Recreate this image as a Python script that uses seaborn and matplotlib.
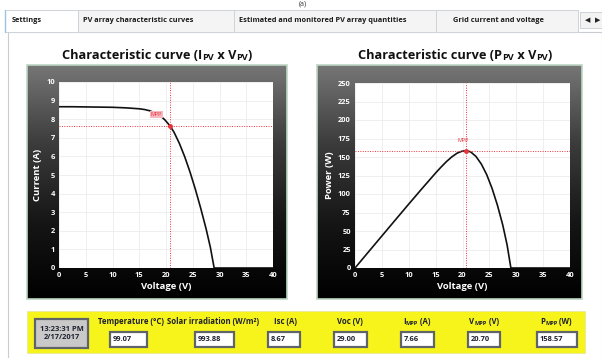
import numpy as np
import pandas as pd
import matplotlib
matplotlib.use("Agg")
import matplotlib.pyplot as plt
from matplotlib.patches import Rectangle
from matplotlib.colors import LinearSegmentedColormap
import seaborn as sns

# ---------------- data ----------------
voltage = [0, 2.5, 5, 7.5, 10, 12.5, 15, 16, 17, 18, 19, 19.8, 20.7, 21.5, 22.5, 23.5, 24.5, 25.5, 26.5, 27.5, 28.3, 29.0, 30, 35, 40]
current = [8.67, 8.67, 8.66, 8.65, 8.64, 8.61, 8.56, 8.52, 8.45, 8.34, 8.17, 7.96, 7.66, 7.30, 6.70, 5.98, 5.15, 4.22, 3.20, 2.10, 1.10, 0.0, 0.0, 0.0, 0.0]
power = [0, 21.7, 43.3, 64.9, 86.4, 107.6, 128.4, 136.3, 143.7, 150.1, 155.2, 157.6, 158.57, 157.0, 150.8, 140.5, 126.2, 107.6, 84.8, 57.8, 31.1, 0.0, 0.0, 0.0, 0.0]

isc, voc, impp, vmpp, pmpp = 8.67, 29.00, 7.66, 20.70, 158.57
temperature, irradiation = 99.07, 993.88
timestamp = "13:23:31 PM\n2/17/2017"

tabs = ["Settings", "PV array characteristic curves",
        "Estimated and monitored PV array quantities", "Grid current and voltage"]
x_ticks = [0, 5, 10, 15, 20, 25, 30, 35, 40]
i_ticks = list(range(0, 11))
p_ticks = list(range(0, 251, 25))

df = pd.DataFrame({"V": voltage, "I": current, "P": power})

# ---------------- figure ----------------
sns.set_theme(style="white")
plt.rcParams["font.family"] = ["Open Sans", "DejaVu Sans"]

W, H = 602, 358
fig = plt.figure(figsize=(W / 100, H / 100), dpi=100)
fig.patch.set_facecolor("white")

bg = fig.add_axes([0, 0, 1, 1], zorder=0)
bg.set_xlim(0, W)
bg.set_ylim(H, 0)
bg.axis("off")

def rect(ax_rect):
    x0, y0, x1, y1 = ax_rect
    return [x0 / W, 1 - y1 / H, (x1 - x0) / W, (y1 - y0) / H]

# caption at very top
bg.text(303, 0.5, "(a)", fontsize=5, color="#333", ha="center", va="top")

# ---- tab bar ----
bg.add_patch(Rectangle((8, 32), 594, 330, fc="white", ec="#c9cdd2", lw=0.8))
tab_boxes = [(5, 78), (78, 234), (234, 436), (436, 578)]
tab_fc = ["#ffffff", "#f4f4f4", "#f4f4f4", "#f4f4f4"]
tab_text_x = [12, 83, 239, 453]
for (a, b), fc, tx, lab in zip(tab_boxes, tab_fc, tab_text_x, tabs):
    bg.add_patch(Rectangle((a, 10), b - a, 22, fc=fc, ec="#cfd3d8", lw=0.7))
    bg.text(tx, 20, lab, fontsize=5.3, fontweight="bold", color="#1b1b1b", va="center", ha="left")
bg.plot([5, 5], [10, 32], color="#9cc3e6", lw=1.0)
bg.add_patch(Rectangle((580, 12), 22, 16, fc="#f3f3f3", ec="#cfd3d8", lw=0.7))
bg.text(588, 20, "\u25C0", fontsize=5, color="#222", ha="center", va="center", family="DejaVu Sans")
bg.text(598, 20, "\u25B6", fontsize=5, color="#222", ha="center", va="center", family="DejaVu Sans")

# ---- rich text helper (small caps subscripts) ----
renderer = fig.canvas.get_renderer()

def rich(x, y, parts, color="#111", weight="bold", ha="center"):
    first = bg.text(x, y, parts[0][0], fontsize=parts[0][1], fontweight=weight,
                    color=color, ha="left", va="bottom")
    arts = [first]
    prev = first
    for s, fs in parts[1:]:
        t = bg.annotate(s, xy=(1, 0), xycoords=prev, fontsize=fs, fontweight=weight,
                        color=color, ha="left", va="bottom")
        arts.append(t)
        prev = t
    if ha == "center":
        fig.canvas.draw()
        x0 = min(a.get_window_extent(renderer).x0 for a in arts)
        x1 = max(a.get_window_extent(renderer).x1 for a in arts)
        first.set_x(x - (x1 - x0) / 2)
    return arts

# ---- panels with gradient ----
grad = np.linspace(0, 1, 256).reshape(-1, 1)
pcmap = LinearSegmentedColormap.from_list("p", ["#767676", "#3c3c3c", "#161616", "#000000"])
panels = [(27, 65, 287, 299), (317, 65, 582, 299)]
for (x0, y0, x1, y1) in panels:
    bg.imshow(grad, extent=(x0, x1, y1, y0), cmap=pcmap, aspect="auto", zorder=1)
    bg.add_patch(Rectangle((x0, y0), x1 - x0, y1 - y0, fc="none", ec="#bcd6c2", lw=1.2, zorder=2))

# titles
rich(157, 62, [("Characteristic curve (I", 9.2), ("PV", 6.6), (" x V", 9.2), ("PV", 6.6), (")", 9.2)])
rich(455, 62, [("Characteristic curve (P", 9.2), ("PV", 6.6), (" x V", 9.2), ("PV", 6.6), (")", 9.2)])

# ---- plot axes ----
def style(ax, yticks, ylabel):
    ax.set_facecolor("white")
    ax.set_xlim(0, 40)
    ax.set_ylim(yticks[0], yticks[-1])
    ax.set_xticks(x_ticks)
    ax.set_yticks(yticks)
    ax.grid(True, color="#ececec", lw=0.6)
    for s in ax.spines.values():
        s.set_visible(False)
    ax.tick_params(axis="both", length=0, labelsize=5.4, labelcolor="white", pad=3)
    for lab in ax.get_xticklabels() + ax.get_yticklabels():
        lab.set_fontweight("bold")
    ax.set_xlabel("Voltage (V)", color="white", fontsize=6.8, fontweight="bold", labelpad=2)
    ax.set_ylabel(ylabel, color="white", fontsize=6.8, fontweight="bold", labelpad=3)

red = "#e8333a"

ax1 = fig.add_axes(rect((59, 82, 273, 268)), zorder=3)
sns.lineplot(data=df, x="V", y="I", ax=ax1, color="#111111", lw=1.2, sort=False)
style(ax1, i_ticks, "Current (A)")
ax1.axvline(vmpp, color=red, ls=(0, (1, 1.5)), lw=0.7)
ax1.axhline(impp, color=red, ls=(0, (1, 1.5)), lw=0.7)
ax1.plot([vmpp], [impp], "o", color=red, ms=2.5)
ax1.text(18.2, 8.25, "MPP", color=red, fontsize=4, ha="center", va="center",
         bbox=dict(boxstyle="square,pad=0.1", fc="#f6b8c0", ec="none"))

ax2 = fig.add_axes(rect((355, 83, 570, 268)), zorder=3)
sns.lineplot(data=df, x="V", y="P", ax=ax2, color="#111111", lw=1.2, sort=False)
style(ax2, p_ticks, "Power (W)")
ax2.axvline(vmpp, color=red, ls=(0, (1, 1.5)), lw=0.7)
ax2.axhline(pmpp, color=red, ls=(0, (1, 1.5)), lw=0.7)
ax2.plot([vmpp], [pmpp], "o", color=red, ms=2.5)
ax2.text(vmpp - 0.6, 172, "MPP", color=red, fontsize=4, ha="center", va="center")

# ---- bottom yellow status panel ----
bg.add_patch(Rectangle((27, 311), 558, 42, fc="#f7f41c", ec="#e9e6a0", lw=0.6, zorder=1))
bg.add_patch(Rectangle((35, 319), 53, 29, fc="#c9c9c9", ec="#5f6468", lw=1.6, zorder=2))
bg.text(61.5, 333.5, timestamp, fontsize=5.4, fontweight="bold", color="#1d2030",
        ha="center", va="center", linespacing=1.35, zorder=3)

fields = [
    ([("Temperature (\u00B0C)", 5.6)], 131, 110, 147, f"{temperature:.2f}"),
    ([("Solar irradiation (W/m\u00B2)", 5.6)], 213, 195, 234, f"{irradiation:.2f}"),
    ([("Isc (A)", 5.6)], 285, 268, 300, f"{isc:.2f}"),
    ([("Voc (V)", 5.6)], 350, 334, 367, f"{voc:.2f}"),
    ([("I", 5.6), ("MPP", 4.1), (" (A)", 5.6)], 417, 401, 434, f"{impp:.2f}"),
    ([("V", 5.6), ("MPP", 4.1), (" (V)", 5.6)], 484, 468, 500, f"{vmpp:.2f}"),
    ([("P", 5.6), ("MPP", 4.1), (" (W)", 5.6)], 556, 537, 577, f"{pmpp:.2f}"),
]
for parts, cx, bx0, bx1, val in fields:
    arts = rich(cx, 326, parts, color="#1d2030")
    for a in arts:
        a.set_zorder(3)
    bg.add_patch(Rectangle((bx0, 332), bx1 - bx0, 15, fc="white", ec="#5f6468", lw=1.6, zorder=2))
    bg.text(bx0 + 3, 339.5, val, fontsize=5.4, fontweight="bold", color="#1d2030",
            ha="left", va="center", zorder=3)

fig.savefig("out.png", dpi=100)
